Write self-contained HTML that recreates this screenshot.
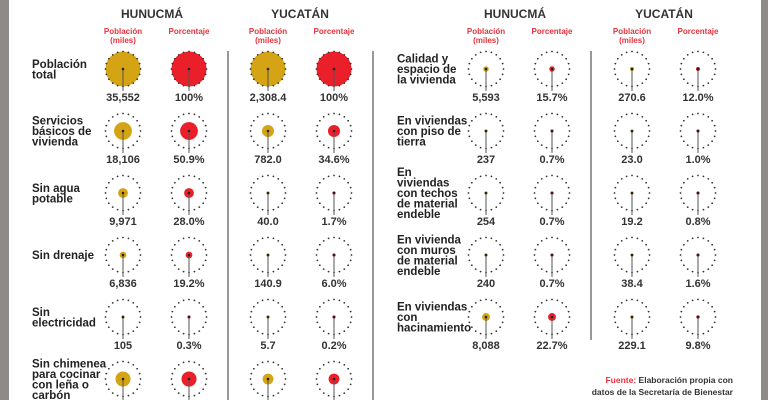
<!DOCTYPE html>
<html><head><meta charset="utf-8">
<style>
html,body{margin:0;padding:0;background:#fff;}
svg{display:block;font-family:"Liberation Sans",Arial,sans-serif;}
</style></head>
<body>
<svg id="chart" width="768" height="400" viewBox="0 0 768 400" xmlns="http://www.w3.org/2000/svg">
<rect x="0" y="0" width="768" height="400" fill="#fff"/>
<rect x="0" y="0" width="9" height="400" fill="#8e8a8a"/>
<rect x="761" y="0" width="7" height="400" fill="#8e8a8a"/>
<line x1="228" y1="51" x2="228" y2="400" stroke="#555" stroke-width="1.2"/>
<line x1="373" y1="51" x2="373" y2="400" stroke="#555" stroke-width="1.2"/>
<line x1="591" y1="51" x2="591" y2="340" stroke="#555" stroke-width="1.2"/>
<g id="marks"></g>
<text x="733" y="383" font-size="8.5" font-weight="bold" fill="#333" text-anchor="end"><tspan fill="#e8323c">Fuente:</tspan> Elaboración propia con</text>
<text x="733" y="395" font-size="8.5" font-weight="bold" fill="#333" text-anchor="end">datos de la Secretaría de Bienestar</text>
</svg>
<script>
const leftLabels=[["Población","total"],["Servicios","básicos de","vivienda"],["Sin agua","potable"],["Sin drenaje"],["Sin","electricidad"],["Sin chimenea","para cocinar","con leña o","carbón"]];
const leftHunPop=["35,552","18,106","9,971","6,836","105",""];
const leftHunPct=[100,50.9,28.0,19.2,0.3,43];
const leftYucPop=["2,308.4","782.0","40.0","140.9","5.7",""];
const leftYucPct=[100,34.6,1.7,6.0,0.2,31];
const rightLabels=[["Calidad y","espacio de","la vivienda"],["En viviendas","con piso de","tierra"],["En","viviendas","con techos","de material","endeble"],["En vivienda","con muros","de material","endeble"],["En viviendas","con","hacinamiento"]];
const rightHunPop=["5,593","237","254","240","8,088"];
const rightHunPct=[15.7,0.7,0.7,0.7,22.7];
const rightYucPop=["270.6","23.0","19.2","38.4","229.1"];
const rightYucPct=[12.0,1.0,0.8,1.6,9.8];

const NS="http://www.w3.org/2000/svg";
const g=document.getElementById('marks');
const GOLD="#d4a414",RED="#ea1f29";
const R=17.5,row0=69,rowStep=62;
function yPos(i){return row0+i*rowStep;}
function rScale(p){return Math.max(1.6,p/100*R);}
function el(tag,attrs){const e=document.createElementNS(NS,tag);for(const k in attrs)e.setAttribute(k,attrs[k]);g.appendChild(e);return e;}
function txt(x,y,s,size,color,anchor){const t=el('text',{x:x,y:y,'font-size':size,'font-weight':'bold',fill:color,'text-anchor':anchor||'middle'});t.textContent=s;return t;}

function circle(cx,cy,pct,color,label){
  const r=rScale(pct);
  const c=el('circle',{cx:cx,cy:cy,r:r,fill:color});
  
  
  for(let k=0;k<20;k++){const a=k/20*2*Math.PI;
    const d=el('circle',{cx:cx+R*Math.cos(a),cy:cy+R*Math.sin(a),r:0.9,fill:'#333'});
    
    }
  const ln=el('line',{x1:cx,y1:cy,x2:cx,y2:cy+22,stroke:'#555','stroke-width':1});
  
  
  const cd=el('circle',{cx:cx,cy:cy,r:1.3,fill:'#222'});
  
  
  const t=txt(cx,cy+32,label,11,'#333');
  
  
}
function headers(cx1,cx2,cx3,cx4,h1x,h2x){
  let t=txt(h1x,18,'HUNUCMÁ',12,'#333');
  t=txt(h2x,18,'YUCATÁN',12,'#333');
  [cx1,cx3].forEach(x=>{let a=txt(x,34,'Población',8,'#e8323c');
    let b=txt(x,43,'(miles)',8,'#e8323c');});
  [cx2,cx4].forEach(x=>{let a=txt(x,34,'Porcentaje',8,'#e8323c');});
}
function panel(labels,hp,hpct,yp,ypct,lx,xs){
  labels.forEach((lines,i)=>{
    const cy=yPos(i);const n=lines.length;const lh=10.5;
    const y0=cy-(n-1)*lh/2+4;
    lines.forEach((s,j)=>{const t=txt(lx,y0+j*lh,s,11.5,'#222','start');
      
      });
    circle(xs[0],cy,hpct[i],GOLD,hp[i]);
    circle(xs[1],cy,hpct[i],RED,hpct[i]&&hp[i]?hpct[i].toFixed(hpct[i]===100?0:1)+'%':'');
    circle(xs[2],cy,ypct[i],GOLD,yp[i]);
    circle(xs[3],cy,ypct[i],RED,ypct[i]&&yp[i]?ypct[i].toFixed(ypct[i]===100?0:1)+'%':'');
  });
}
headers(123,189,268,334,152,300);
headers(486,552,632,698,515,664);
panel(leftLabels,leftHunPop,leftHunPct,leftYucPop,leftYucPct,32,[123,189,268,334]);
panel(rightLabels,rightHunPop,rightHunPct,rightYucPop,rightYucPct,397,[486,552,632,698]);
</script>
</body></html>
